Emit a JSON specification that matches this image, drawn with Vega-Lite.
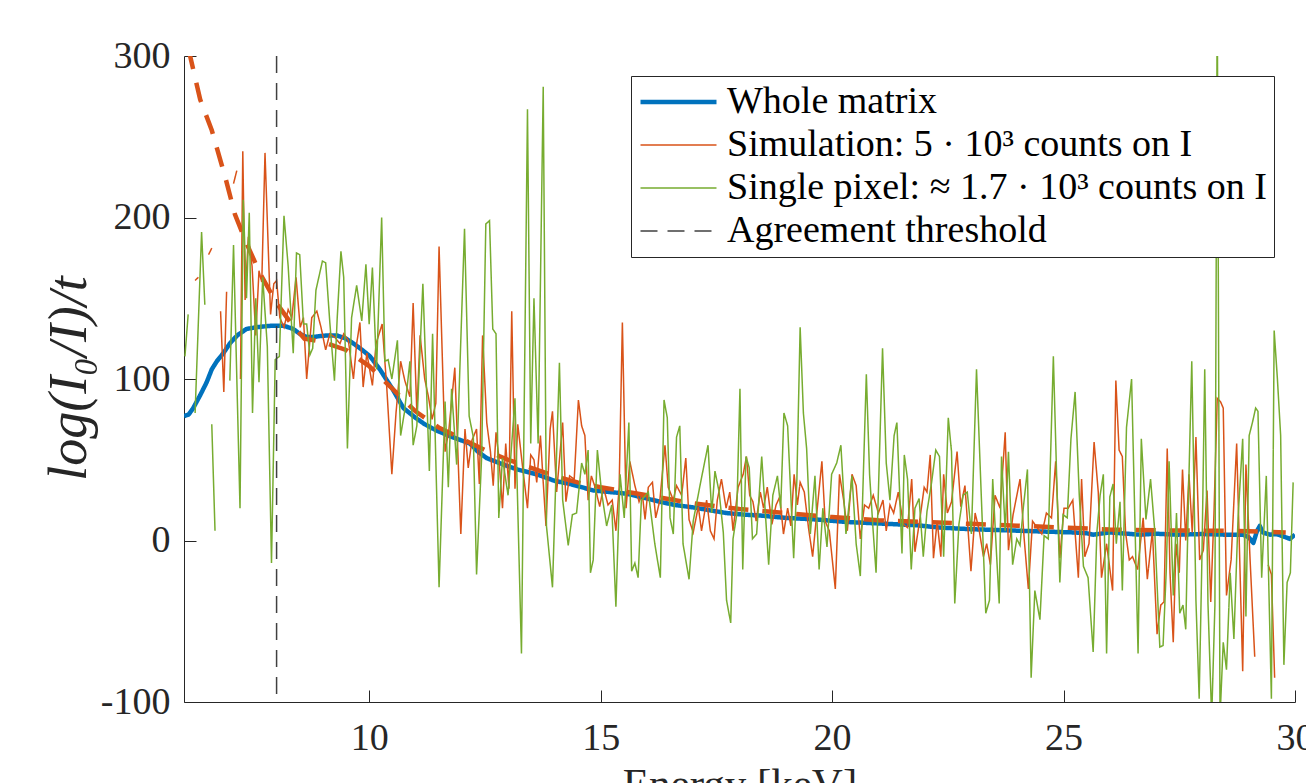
{
"$schema": "https://vega.github.io/schema/vega-lite/v6.json",
"width": 1111, "height": 646,
"autosize": "none",
"padding": {"left": 184, "top": 56, "right": 11, "bottom": 81},
"background": "white",
"config": {
  "view": {"stroke": null},
  "font": "Liberation Serif",
  "axis": {"grid": false, "domainColor": "#262626", "tickColor": "#262626", "labelColor": "#262626", "titleColor": "#262626", "labelFont": "Liberation Serif", "titleFont": "Liberation Serif", "labelFontSize": 38, "tickSize": -12, "domainWidth": 1, "tickWidth": 1, "titleFontWeight": "normal"},
  "legend": {"orient": "none", "legendX": 447, "legendY": 20, "symbolType": "stroke", "symbolSize": 5776, "clipHeight": 38, "labelFontSize": 38, "labelFont": "Liberation Serif", "labelColor": "#000000", "labelOffset": 8, "rowPadding": 5, "padding": 7, "strokeColor": "#262626", "fillColor": "#ffffff", "labelLimit": 0}
},
"encoding": {
  "x": {"field": "e", "type": "quantitative", "scale": {"domain": [6, 30], "nice": false, "zero": false},
        "axis": {"values": [10, 15, 20, 25, 30], "labelPadding": 29, "labelFlush": false, "labelOverlap": false, "title": "Energy [keV]", "titleFontSize": 43, "titleY": 95, "titleBaseline": "alphabetic"}}
},
"layer": [
{
  "data": {"values": [
{"e":6.0,"w":77},{"e":6.1,"w":78},{"e":6.2,"w":82},{"e":6.35,"w":90},{"e":6.49,"w":98},{"e":6.6,"w":106},{"e":6.71,"w":111},{"e":6.85,"w":116},{"e":6.99,"w":122},{"e":7.15,"w":127},{"e":7.35,"w":131},{"e":7.55,"w":132},{"e":7.71,"w":132.5},{"e":7.9,"w":133},{"e":8.15,"w":133},{"e":8.36,"w":131},{"e":8.5,"w":128},{"e":8.65,"w":126},{"e":8.8,"w":126},{"e":8.94,"w":126.6},{"e":9.1,"w":127},{"e":9.3,"w":127},{"e":9.5,"w":125},{"e":9.66,"w":122},{"e":9.85,"w":118},{"e":10.02,"w":114},{"e":10.23,"w":106},{"e":10.5,"w":94},{"e":10.74,"w":82},{"e":11.0,"w":76},{"e":11.2,"w":72},{"e":11.46,"w":68},{"e":11.8,"w":64},{"e":12.18,"w":60},{"e":12.35,"w":55},{"e":12.54,"w":51},{"e":12.9,"w":47},{"e":13.2,"w":44},{"e":13.62,"w":41},{"e":14.0,"w":37},{"e":14.34,"w":35},{"e":14.84,"w":31},{"e":15.2,"w":30},{"e":15.56,"w":29},{"e":16.0,"w":26},{"e":16.28,"w":24},{"e":16.6,"w":22},{"e":17.0,"w":20.5},{"e":17.4,"w":18.5},{"e":17.72,"w":17},{"e":18.1,"w":16},{"e":18.44,"w":15.5},{"e":19.0,"w":14},{"e":19.67,"w":13},{"e":20.3,"w":11.5},{"e":21.11,"w":10.4},{"e":21.8,"w":9.5},{"e":22.33,"w":8},{"e":23.0,"w":7},{"e":23.77,"w":6.3},{"e":24.5,"w":5.6},{"e":25.21,"w":5},{"e":25.5,"w":4.5},{"e":25.64,"w":3.6},{"e":26.0,"w":5},{"e":26.65,"w":3.6},{"e":27.0,"w":4.2},{"e":27.44,"w":3.6},{"e":28.0,"w":4},{"e":28.5,"w":3.6},{"e":28.88,"w":3.6},{"e":29.0,"w":2},{"e":29.1,"w":-1.5},{"e":29.18,"w":6},{"e":29.24,"w":9},{"e":29.3,"w":5},{"e":29.46,"w":3.6},{"e":29.6,"w":4},{"e":29.75,"w":2.5},{"e":29.89,"w":1},{"e":30.0,"w":3.6}
  ]},
  "transform": [{"fold": ["w"], "as": ["k", "v"]}],
  "mark": {"type": "line", "clip": true, "strokeJoin": "round", "strokeCap": "butt"},
  "encoding": {
    "y": {"field": "v", "type": "quantitative", "scale": {"domain": [-100, 300], "nice": false, "zero": false},
          "axis": {"values": [-100, 0, 100, 200, 300], "labelPadding": 26, "labelFlush": false, "labelExpr": "datum.value < 0 ? '-' + abs(datum.value) : datum.label", "title": "log(I₀/I)/t", "titleFontSize": 54, "titleFontStyle": "italic", "titleX": -99, "titleY": 322, "titleAngle": 270, "titleBaseline": "alphabetic", "titleAlign": "center"}},
    "color": {"field": "k", "type": "nominal", "scale": {"domain": ["w","s","g","t"], "range": ["#0072BD","#D95319","#77AC30","#404040"]}, "legend": {"title": null, "labelExpr": "datum.label == 'w' ? 'Whole matrix' : datum.label == 's' ? 'Simulation: 5 · 10³ counts on I' : datum.label == 'g' ? 'Single pixel: ≈ 1.7 · 10³ counts on I' : 'Agreement threshold'"}},
    "strokeDash": {"field": "k", "type": "nominal", "scale": {"domain": ["w","s","g","t"], "range": [[1,0],[1,0],[1,0],[17,10]]}, "legend": {"title": null, "labelExpr": "datum.label == 'w' ? 'Whole matrix' : datum.label == 's' ? 'Simulation: 5 · 10³ counts on I' : datum.label == 'g' ? 'Single pixel: ≈ 1.7 · 10³ counts on I' : 'Agreement threshold'"}},
    "strokeWidth": {"field": "k", "type": "nominal", "scale": {"type": "ordinal", "domain": ["w","s","g","t"], "range": [4.5,1.5,1.5,1.5]}, "legend": {"title": null, "labelExpr": "datum.label == 'w' ? 'Whole matrix' : datum.label == 's' ? 'Simulation: 5 · 10³ counts on I' : datum.label == 'g' ? 'Single pixel: ≈ 1.7 · 10³ counts on I' : 'Agreement threshold'"}}
  }
},
{
  "data": {"values": [
{"e":6.1,"v":304},{"e":6.35,"v":273},{"e":6.6,"v":254},{"e":6.9,"v":224},{"e":7.1,"v":202},{"e":7.35,"v":184},{"e":7.65,"v":165},{"e":8.0,"v":147},{"e":8.3,"v":135},{"e":8.6,"v":125},{"e":9.0,"v":123},{"e":9.5,"v":118},{"e":10.0,"v":108},{"e":10.5,"v":94},{"e":11.0,"v":80},{"e":11.5,"v":70},{"e":12.0,"v":63},{"e":12.5,"v":56},{"e":13.0,"v":50},{"e":13.5,"v":45},{"e":14.0,"v":40},{"e":14.5,"v":36},{"e":15.0,"v":33},{"e":16.0,"v":28},{"e":17.0,"v":23},{"e":18.0,"v":19.5},{"e":19.0,"v":17},{"e":20.0,"v":14.5},{"e":21.0,"v":12.5},{"e":22.0,"v":11.5},{"e":23.0,"v":10.3},{"e":24.0,"v":9.2},{"e":25.0,"v":8},{"e":26.0,"v":6.8},{"e":27.0,"v":6.3},{"e":28.0,"v":6.1},{"e":29.0,"v":5.8},{"e":29.8,"v":5}
  ]},
  "mark": {"type": "line", "clip": true, "color": "#D95319", "strokeWidth": 4.5, "strokeDash": [20, 14], "strokeCap": "butt"},
  "encoding": {
    "y": {"field": "v", "type": "quantitative", "scale": {"domain": [-100, 300], "nice": false, "zero": false}}
  }
},
{
  "data": {"values": [
{"e":6.24,"s":161},{"e":6.31,"s":163},{"e":6.4,"s":null},{"e":6.53,"s":177},{"e":6.6,"s":181},{"e":6.7,"s":null},{"e":6.79,"s":142},{"e":6.86,"s":92},{"e":6.92,"s":154},{"e":7.0,"s":null},{"e":7.07,"s":221},{"e":7.14,"s":229},{"e":7.2,"s":null},{"e":7.22,"s":100},{"e":7.27,"s":241},{"e":7.32,"s":149},{"e":7.39,"s":188},{"e":7.47,"s":170},{"e":7.55,"s":127},{"e":7.62,"s":167},{"e":7.68,"s":160},{"e":7.75,"s":240},{"e":7.82,"s":181},{"e":7.87,"s":140},{"e":7.94,"s":159},{"e":8.0,"s":161},{"e":8.07,"s":138},{"e":8.16,"s":132},{"e":8.25,"s":143},{"e":8.33,"s":138},{"e":8.42,"s":163},{"e":8.51,"s":132},{"e":8.58,"s":138},{"e":8.65,"s":100},{"e":8.76,"s":138},{"e":8.87,"s":142},{"e":8.96,"s":132},{"e":9.06,"s":118},{"e":9.15,"s":128},{"e":9.25,"s":126},{"e":9.37,"s":122},{"e":9.45,"s":128},{"e":9.55,"s":124},{"e":9.66,"s":100},{"e":9.73,"s":122},{"e":9.8,"s":135},{"e":9.87,"s":95},{"e":9.95,"s":116},{"e":10.07,"s":96},{"e":10.15,"s":122},{"e":10.28,"s":134},{"e":10.38,"s":95},{"e":10.49,"s":41},{"e":10.58,"s":79},{"e":10.68,"s":111},{"e":10.77,"s":99},{"e":10.88,"s":89},{"e":10.95,"s":147},{"e":11.03,"s":79},{"e":11.1,"s":127},{"e":11.2,"s":100},{"e":11.28,"s":89},{"e":11.36,"s":75},{"e":11.44,"s":85},{"e":11.51,"s":182},{"e":11.64,"s":55},{"e":11.72,"s":68},{"e":11.85,"s":107},{"e":11.98,"s":4},{"e":12.07,"s":69},{"e":12.14,"s":45},{"e":12.22,"s":62},{"e":12.32,"s":69},{"e":12.38,"s":35},{"e":12.45,"s":127},{"e":12.54,"s":73},{"e":12.62,"s":55},{"e":12.68,"s":34},{"e":12.74,"s":67},{"e":12.8,"s":52},{"e":12.88,"s":20},{"e":12.95,"s":60},{"e":13.02,"s":32},{"e":13.08,"s":142},{"e":13.15,"s":32},{"e":13.21,"s":72},{"e":13.32,"s":44},{"e":13.42,"s":20},{"e":13.49,"s":53},{"e":13.56,"s":50},{"e":13.62,"s":36},{"e":13.7,"s":65},{"e":13.76,"s":36},{"e":13.82,"s":9},{"e":13.91,"s":69},{"e":13.96,"s":80},{"e":14.05,"s":30},{"e":14.18,"s":73},{"e":14.25,"s":24},{"e":14.33,"s":40},{"e":14.43,"s":38},{"e":14.52,"s":87},{"e":14.59,"s":71},{"e":14.66,"s":65},{"e":14.73,"s":25},{"e":14.8,"s":40},{"e":14.88,"s":33},{"e":14.98,"s":21},{"e":15.06,"s":33},{"e":15.16,"s":22},{"e":15.25,"s":25},{"e":15.33,"s":6},{"e":15.4,"s":33},{"e":15.47,"s":135},{"e":15.55,"s":20},{"e":15.63,"s":49},{"e":15.74,"s":34},{"e":15.83,"s":24},{"e":15.9,"s":29},{"e":15.96,"s":13},{"e":16.03,"s":33},{"e":16.12,"s":36},{"e":16.19,"s":14},{"e":16.28,"s":25},{"e":16.39,"s":59},{"e":16.46,"s":33},{"e":16.57,"s":25},{"e":16.64,"s":34},{"e":16.75,"s":28},{"e":16.84,"s":51},{"e":16.91,"s":13},{"e":17.0,"s":5},{"e":17.11,"s":21},{"e":17.18,"s":6},{"e":17.29,"s":25},{"e":17.37,"s":6},{"e":17.45,"s":1},{"e":17.52,"s":25},{"e":17.61,"s":38},{"e":17.71,"s":20},{"e":17.79,"s":30},{"e":17.86,"s":6},{"e":17.97,"s":33},{"e":18.08,"s":41},{"e":18.15,"s":52},{"e":18.22,"s":28},{"e":18.29,"s":24},{"e":18.36,"s":12},{"e":18.45,"s":30},{"e":18.52,"s":20},{"e":18.6,"s":33},{"e":18.7,"s":10},{"e":18.79,"s":22},{"e":18.87,"s":27},{"e":18.95,"s":4},{"e":19.04,"s":20},{"e":19.11,"s":9},{"e":19.18,"s":41},{"e":19.25,"s":22},{"e":19.31,"s":36},{"e":19.4,"s":30},{"e":19.49,"s":8},{"e":19.58,"s":-10},{"e":19.67,"s":17},{"e":19.78,"s":49},{"e":19.85,"s":12},{"e":19.94,"s":6},{"e":20.07,"s":-30},{"e":20.16,"s":41},{"e":20.25,"s":25},{"e":20.33,"s":6},{"e":20.43,"s":41},{"e":20.52,"s":34},{"e":20.61,"s":1},{"e":20.7,"s":22},{"e":20.79,"s":20},{"e":20.89,"s":28},{"e":21.0,"s":17},{"e":21.1,"s":25},{"e":21.17,"s":6},{"e":21.25,"s":22},{"e":21.33,"s":17},{"e":21.43,"s":30},{"e":21.54,"s":10},{"e":21.63,"s":8},{"e":21.72,"s":38},{"e":21.79,"s":-7},{"e":21.9,"s":14},{"e":21.99,"s":33},{"e":22.05,"s":30},{"e":22.12,"s":53},{"e":22.19,"s":-11},{"e":22.27,"s":12},{"e":22.35,"s":-10},{"e":22.41,"s":41},{"e":22.49,"s":17},{"e":22.58,"s":24},{"e":22.7,"s":55},{"e":22.78,"s":21},{"e":22.87,"s":34},{"e":23.0,"s":-19},{"e":23.09,"s":17},{"e":23.18,"s":6},{"e":23.27,"s":-10},{"e":23.34,"s":-2},{"e":23.42,"s":-15},{"e":23.52,"s":28},{"e":23.63,"s":20},{"e":23.74,"s":67},{"e":23.81,"s":-6},{"e":23.91,"s":16},{"e":24.06,"s":38},{"e":24.15,"s":1},{"e":24.24,"s":-30},{"e":24.33,"s":12},{"e":24.43,"s":8},{"e":24.53,"s":4},{"e":24.63,"s":17},{"e":24.74,"s":14},{"e":24.83,"s":49},{"e":24.92,"s":-11},{"e":25.01,"s":20},{"e":25.1,"s":20},{"e":25.2,"s":25},{"e":25.32,"s":-23},{"e":25.39,"s":38},{"e":25.46,"s":-10},{"e":25.55,"s":-2},{"e":25.66,"s":61},{"e":25.75,"s":30},{"e":25.82,"s":-23},{"e":25.93,"s":-2},{"e":26.06,"s":-31},{"e":26.13,"s":99},{"e":26.2,"s":56},{"e":26.27,"s":52},{"e":26.34,"s":5},{"e":26.42,"s":-12},{"e":26.49,"s":-10},{"e":26.6,"s":-18},{"e":26.72,"s":14},{"e":26.81,"s":-24},{"e":26.92,"s":6},{"e":27.02,"s":-58},{"e":27.1,"s":-40},{"e":27.17,"s":-38},{"e":27.24,"s":57},{"e":27.3,"s":-20},{"e":27.37,"s":-63},{"e":27.43,"s":-2},{"e":27.5,"s":-20},{"e":27.57,"s":44},{"e":27.64,"s":0},{"e":27.71,"s":41},{"e":27.78,"s":5},{"e":27.86,"s":64},{"e":27.94,"s":-12},{"e":28.02,"s":-6},{"e":28.1,"s":31},{"e":28.18,"s":-38},{"e":28.25,"s":17},{"e":28.32,"s":88},{"e":28.39,"s":86},{"e":28.45,"s":82},{"e":28.52,"s":-34},{"e":28.62,"s":-12},{"e":28.74,"s":60},{"e":28.87,"s":-81},{"e":28.94,"s":47},{"e":29.03,"s":-12},{"e":29.13,"s":-72},{"e":29.3,"s":null},{"e":29.42,"s":-15},{"e":29.49,"s":-21},{"e":29.56,"s":-85}
  ]},
  "transform": [{"fold": ["s"], "as": ["k", "v"]}],
  "mark": {"type": "line", "clip": true, "strokeJoin": "miter", "invalid": "break-paths-show-domains"},
  "encoding": {
    "y": {"field": "v", "type": "quantitative", "scale": {"domain": [-100, 300], "nice": false, "zero": false}},
    "color": {"field": "k", "type": "nominal", "scale": {"domain": ["w","s","g","t"], "range": ["#0072BD","#D95319","#77AC30","#404040"]}, "legend": {"title": null, "labelExpr": "datum.label == 'w' ? 'Whole matrix' : datum.label == 's' ? 'Simulation: 5 · 10³ counts on I' : datum.label == 'g' ? 'Single pixel: ≈ 1.7 · 10³ counts on I' : 'Agreement threshold'"}},
    "strokeDash": {"field": "k", "type": "nominal", "scale": {"domain": ["w","s","g","t"], "range": [[1,0],[1,0],[1,0],[17,10]]}, "legend": {"title": null, "labelExpr": "datum.label == 'w' ? 'Whole matrix' : datum.label == 's' ? 'Simulation: 5 · 10³ counts on I' : datum.label == 'g' ? 'Single pixel: ≈ 1.7 · 10³ counts on I' : 'Agreement threshold'"}},
    "strokeWidth": {"field": "k", "type": "nominal", "scale": {"type": "ordinal", "domain": ["w","s","g","t"], "range": [4.5,1.5,1.5,1.5]}, "legend": {"title": null, "labelExpr": "datum.label == 'w' ? 'Whole matrix' : datum.label == 's' ? 'Simulation: 5 · 10³ counts on I' : datum.label == 'g' ? 'Single pixel: ≈ 1.7 · 10³ counts on I' : 'Agreement threshold'"}}
  }
},
{
  "data": {"values": [
{"e":6.02,"g":114},{"e":6.09,"g":140},{"e":6.15,"g":null},{"e":6.24,"g":79},{"e":6.38,"g":191},{"e":6.45,"g":146},{"e":6.52,"g":null},{"e":6.6,"g":72},{"e":6.67,"g":6},{"e":6.8,"g":null},{"e":6.99,"g":99},{"e":7.07,"g":183},{"e":7.21,"g":20},{"e":7.28,"g":211},{"e":7.35,"g":150},{"e":7.41,"g":203},{"e":7.48,"g":79},{"e":7.55,"g":150},{"e":7.62,"g":98},{"e":7.7,"g":163},{"e":7.8,"g":120},{"e":7.89,"g":-14},{"e":7.97,"g":112},{"e":8.06,"g":114},{"e":8.16,"g":201},{"e":8.25,"g":170},{"e":8.36,"g":116},{"e":8.43,"g":178},{"e":8.5,"g":177},{"e":8.58,"g":134},{"e":8.65,"g":134},{"e":8.72,"g":115},{"e":8.78,"g":119},{"e":8.85,"g":155},{"e":8.99,"g":173},{"e":9.06,"g":172},{"e":9.15,"g":135},{"e":9.25,"g":99},{"e":9.31,"g":138},{"e":9.39,"g":179},{"e":9.45,"g":163},{"e":9.53,"g":57},{"e":9.62,"g":138},{"e":9.73,"g":158},{"e":9.84,"g":136},{"e":9.93,"g":171},{"e":10.0,"g":134},{"e":10.07,"g":169},{"e":10.16,"g":106},{"e":10.27,"g":200},{"e":10.34,"g":111},{"e":10.41,"g":112},{"e":10.49,"g":100},{"e":10.61,"g":124},{"e":10.68,"g":65},{"e":10.76,"g":79},{"e":10.88,"g":111},{"e":10.95,"g":59},{"e":11.03,"g":71},{"e":11.16,"g":159},{"e":11.3,"g":43},{"e":11.37,"g":128},{"e":11.51,"g":-29},{"e":11.64,"g":86},{"e":11.71,"g":33},{"e":11.78,"g":94},{"e":11.89,"g":47},{"e":12.06,"g":193},{"e":12.16,"g":77},{"e":12.25,"g":64},{"e":12.32,"g":-21},{"e":12.43,"g":52},{"e":12.52,"g":196},{"e":12.6,"g":198},{"e":12.67,"g":131},{"e":12.74,"g":128},{"e":12.8,"g":14},{"e":12.88,"g":51},{"e":13.0,"g":28},{"e":13.15,"g":88},{"e":13.29,"g":-70},{"e":13.42,"g":267},{"e":13.49,"g":60},{"e":13.56,"g":150},{"e":13.65,"g":60},{"e":13.76,"g":281},{"e":13.83,"g":9},{"e":13.96,"g":-29},{"e":14.11,"g":110},{"e":14.18,"g":25},{"e":14.3,"g":-3},{"e":14.39,"g":16},{"e":14.48,"g":17},{"e":14.59,"g":48},{"e":14.66,"g":41},{"e":14.73,"g":56},{"e":14.78,"g":-20},{"e":14.84,"g":-12},{"e":14.93,"g":56},{"e":15.02,"g":30},{"e":15.13,"g":9},{"e":15.24,"g":22},{"e":15.33,"g":-41},{"e":15.42,"g":41},{"e":15.51,"g":14},{"e":15.61,"g":73},{"e":15.67,"g":-19},{"e":15.74,"g":-14},{"e":15.81,"g":-23},{"e":15.88,"g":25},{"e":16.03,"g":30},{"e":16.17,"g":-2},{"e":16.29,"g":-23},{"e":16.37,"g":87},{"e":16.44,"g":76},{"e":16.5,"g":14},{"e":16.57,"g":4},{"e":16.64,"g":64},{"e":16.71,"g":71},{"e":16.78,"g":-2},{"e":16.91,"g":-24},{"e":17.0,"g":12},{"e":17.16,"g":36},{"e":17.32,"g":59},{"e":17.4,"g":17},{"e":17.47,"g":43},{"e":17.56,"g":30},{"e":17.65,"g":5},{"e":17.72,"g":-37},{"e":17.81,"g":-51},{"e":17.86,"g":1},{"e":17.94,"g":16},{"e":18.01,"g":94},{"e":18.07,"g":-18},{"e":18.14,"g":52},{"e":18.21,"g":45},{"e":18.28,"g":1},{"e":18.37,"g":4},{"e":18.48,"g":52},{"e":18.63,"g":-15},{"e":18.72,"g":28},{"e":18.82,"g":40},{"e":18.89,"g":20},{"e":18.96,"g":79},{"e":19.04,"g":71},{"e":19.17,"g":-11},{"e":19.24,"g":38},{"e":19.31,"g":132},{"e":19.38,"g":79},{"e":19.45,"g":57},{"e":19.53,"g":4},{"e":19.63,"g":40},{"e":19.72,"g":-18},{"e":19.8,"g":20},{"e":19.89,"g":-4},{"e":19.99,"g":41},{"e":20.1,"g":48},{"e":20.19,"g":59},{"e":20.3,"g":4},{"e":20.43,"g":40},{"e":20.52,"g":-2},{"e":20.61,"g":-22},{"e":20.74,"g":103},{"e":20.81,"g":41},{"e":20.88,"g":9},{"e":20.95,"g":-20},{"e":21.09,"g":119},{"e":21.17,"g":48},{"e":21.25,"g":25},{"e":21.34,"g":65},{"e":21.4,"g":73},{"e":21.51,"g":-8},{"e":21.56,"g":53},{"e":21.63,"g":38},{"e":21.71,"g":-18},{"e":21.79,"g":20},{"e":21.88,"g":26},{"e":21.97,"g":-10},{"e":22.05,"g":18},{"e":22.15,"g":36},{"e":22.24,"g":56},{"e":22.32,"g":52},{"e":22.41,"g":-10},{"e":22.51,"g":76},{"e":22.58,"g":55},{"e":22.65,"g":-39},{"e":22.74,"g":10},{"e":22.83,"g":28},{"e":22.92,"g":30},{"e":23.01,"g":4},{"e":23.12,"g":106},{"e":23.22,"g":30},{"e":23.32,"g":-45},{"e":23.4,"g":-37},{"e":23.47,"g":38},{"e":23.55,"g":-7},{"e":23.61,"g":-39},{"e":23.66,"g":52},{"e":23.74,"g":6},{"e":23.81,"g":55},{"e":23.9,"g":-15},{"e":23.99,"g":1},{"e":24.06,"g":-3},{"e":24.13,"g":20},{"e":24.22,"g":44},{"e":24.3,"g":-85},{"e":24.38,"g":-31},{"e":24.49,"g":-49},{"e":24.58,"g":3},{"e":24.67,"g":1},{"e":24.78,"g":114},{"e":24.85,"g":41},{"e":24.92,"g":-26},{"e":24.99,"g":16},{"e":25.08,"g":14},{"e":25.16,"g":63},{"e":25.25,"g":92},{"e":25.34,"g":28},{"e":25.43,"g":-16},{"e":25.53,"g":-23},{"e":25.64,"g":-69},{"e":25.72,"g":5},{"e":25.79,"g":28},{"e":25.86,"g":41},{"e":25.93,"g":-70},{"e":26.0,"g":27},{"e":26.07,"g":35},{"e":26.14,"g":-2},{"e":26.22,"g":24},{"e":26.27,"g":-31},{"e":26.36,"g":70},{"e":26.47,"g":100},{"e":26.54,"g":14},{"e":26.61,"g":-70},{"e":26.68,"g":63},{"e":26.78,"g":13},{"e":26.88,"g":38},{"e":26.97,"g":6},{"e":27.08,"g":-66},{"e":27.15,"g":-65},{"e":27.22,"g":-18},{"e":27.28,"g":49},{"e":27.37,"g":-34},{"e":27.44,"g":17},{"e":27.51,"g":-45},{"e":27.58,"g":-40},{"e":27.64,"g":-55},{"e":27.7,"g":29},{"e":27.77,"g":111},{"e":27.86,"g":-37},{"e":27.93,"g":-98},{"e":27.99,"g":-10},{"e":28.05,"g":106},{"e":28.12,"g":-39},{"e":28.2,"g":-110},{"e":28.27,"g":-40},{"e":28.32,"g":340},{"e":28.38,"g":-110},{"e":28.45,"g":-63},{"e":28.52,"g":-80},{"e":28.6,"g":-20},{"e":28.68,"g":-61},{"e":28.77,"g":14},{"e":28.87,"g":63},{"e":28.94,"g":-47},{"e":29.01,"g":65},{"e":29.08,"g":73},{"e":29.15,"g":82},{"e":29.2,"g":80},{"e":29.28,"g":-23},{"e":29.38,"g":40},{"e":29.49,"g":-98},{"e":29.55,"g":130},{"e":29.62,"g":100},{"e":29.69,"g":65},{"e":29.76,"g":-77},{"e":29.83,"g":-26},{"e":29.9,"g":-20},{"e":29.96,"g":36}
  ]},
  "transform": [{"fold": ["g"], "as": ["k", "v"]}],
  "mark": {"type": "line", "clip": true, "strokeJoin": "miter", "invalid": "break-paths-show-domains"},
  "encoding": {
    "y": {"field": "v", "type": "quantitative", "scale": {"domain": [-100, 300], "nice": false, "zero": false}},
    "color": {"field": "k", "type": "nominal", "scale": {"domain": ["w","s","g","t"], "range": ["#0072BD","#D95319","#77AC30","#404040"]}, "legend": {"title": null, "labelExpr": "datum.label == 'w' ? 'Whole matrix' : datum.label == 's' ? 'Simulation: 5 · 10³ counts on I' : datum.label == 'g' ? 'Single pixel: ≈ 1.7 · 10³ counts on I' : 'Agreement threshold'"}},
    "strokeDash": {"field": "k", "type": "nominal", "scale": {"domain": ["w","s","g","t"], "range": [[1,0],[1,0],[1,0],[17,10]]}, "legend": {"title": null, "labelExpr": "datum.label == 'w' ? 'Whole matrix' : datum.label == 's' ? 'Simulation: 5 · 10³ counts on I' : datum.label == 'g' ? 'Single pixel: ≈ 1.7 · 10³ counts on I' : 'Agreement threshold'"}},
    "strokeWidth": {"field": "k", "type": "nominal", "scale": {"type": "ordinal", "domain": ["w","s","g","t"], "range": [4.5,1.5,1.5,1.5]}, "legend": {"title": null, "labelExpr": "datum.label == 'w' ? 'Whole matrix' : datum.label == 's' ? 'Simulation: 5 · 10³ counts on I' : datum.label == 'g' ? 'Single pixel: ≈ 1.7 · 10³ counts on I' : 'Agreement threshold'"}}
  }
},
{
  "data": {"values": [{"e": 8, "t": 0}]},
  "transform": [{"fold": ["t"], "as": ["k", "v"]}],
  "mark": {"type": "rule"},
  "encoding": {
    "color": {"field": "k", "type": "nominal", "scale": {"domain": ["w","s","g","t"], "range": ["#0072BD","#D95319","#77AC30","#404040"]}, "legend": {"title": null, "labelExpr": "datum.label == 'w' ? 'Whole matrix' : datum.label == 's' ? 'Simulation: 5 · 10³ counts on I' : datum.label == 'g' ? 'Single pixel: ≈ 1.7 · 10³ counts on I' : 'Agreement threshold'"}},
    "strokeDash": {"field": "k", "type": "nominal", "scale": {"domain": ["w","s","g","t"], "range": [[1,0],[1,0],[1,0],[17,10]]}, "legend": {"title": null, "labelExpr": "datum.label == 'w' ? 'Whole matrix' : datum.label == 's' ? 'Simulation: 5 · 10³ counts on I' : datum.label == 'g' ? 'Single pixel: ≈ 1.7 · 10³ counts on I' : 'Agreement threshold'"}},
    "strokeWidth": {"field": "k", "type": "nominal", "scale": {"type": "ordinal", "domain": ["w","s","g","t"], "range": [4.5,1.5,1.5,1.5]}, "legend": {"title": null, "labelExpr": "datum.label == 'w' ? 'Whole matrix' : datum.label == 's' ? 'Simulation: 5 · 10³ counts on I' : datum.label == 'g' ? 'Single pixel: ≈ 1.7 · 10³ counts on I' : 'Agreement threshold'"}}
  }
}
]
}
